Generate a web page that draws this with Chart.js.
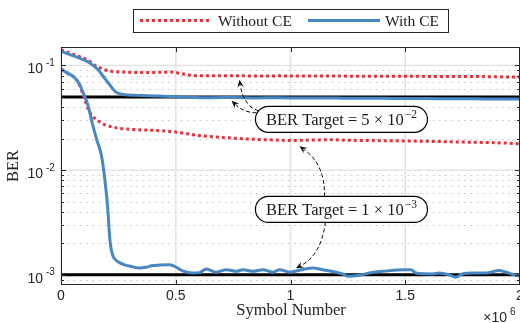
<!DOCTYPE html>
<html><head><meta charset="utf-8">
<script src="https://cdn.jsdelivr.net/npm/chart.js@4.4.1/dist/chart.umd.min.js"></script>
<style>html,body{margin:0;padding:0;background:#fff}canvas{display:block}</style>
</head><body>
<canvas id="c" width="520" height="323"></canvas>
<script>
// ---------- data (x in units of 10^6 symbols) ----------
const seriesLabels = ['Without CE', 'With CE'];

const redUpperX = [0, 0.03, 0.061, 0.09, 0.119, 0.148, 0.17, 0.191, 0.22, 0.264, 0.32, 0.378, 0.43, 0.481, 0.52, 0.55, 0.574, 0.65, 0.75, 0.85, 0.95, 1.05, 1.15, 1.25, 1.35, 1.45, 1.55, 1.65, 1.75, 1.85, 1.95, 2.0];
const redUpperY = [0.141, 0.133, 0.126, 0.119, 0.1116, 0.100, 0.095, 0.091, 0.088, 0.0865, 0.0858, 0.0857, 0.086, 0.0865, 0.084, 0.0815, 0.0802, 0.0795, 0.0798, 0.0793, 0.0795, 0.0792, 0.0794, 0.079, 0.0788, 0.079, 0.0787, 0.0785, 0.0786, 0.0782, 0.0776, 0.0774];

const redLowerX = [0, 0.03, 0.061, 0.08, 0.097, 0.119, 0.136, 0.155, 0.173, 0.191, 0.22, 0.249, 0.29, 0.336, 0.4, 0.481, 0.53, 0.574, 0.62, 0.678, 0.75, 0.822, 0.9, 0.996, 1.09, 1.183, 1.25, 1.33, 1.42, 1.5, 1.617, 1.72, 1.835, 1.92, 1.987, 2.0];
const redLowerY = [0.0924, 0.084, 0.0758, 0.066, 0.052, 0.038, 0.033, 0.0303, 0.0285, 0.0271, 0.026, 0.0252, 0.0247, 0.0243, 0.024, 0.0234, 0.0226, 0.0218, 0.0212, 0.0207, 0.0202, 0.0198, 0.0195, 0.0192, 0.0194, 0.0195, 0.0193, 0.0192, 0.0191, 0.019, 0.0188, 0.0186, 0.0184, 0.0182, 0.0179, 0.0178];

const blueUpperX = [0, 0.03, 0.061, 0.09, 0.119, 0.14, 0.162, 0.185, 0.206, 0.225, 0.242, 0.26, 0.278, 0.32, 0.378, 0.43, 0.481, 0.55, 0.65, 0.75, 0.85, 0.95, 1.05, 1.15, 1.25, 1.35, 1.45, 1.55, 1.65, 1.75, 1.85, 1.95, 2.0];
const blueUpperY = [0.137, 0.129, 0.122, 0.115, 0.108, 0.100, 0.091, 0.078, 0.068, 0.060, 0.0552, 0.0535, 0.0525, 0.0518, 0.0514, 0.051, 0.0506, 0.0498, 0.0492, 0.0494, 0.049, 0.0492, 0.0488, 0.049, 0.0486, 0.0487, 0.0484, 0.0483, 0.0482, 0.048, 0.0479, 0.0478, 0.0477];

const blueLowerX = [0, 0.03, 0.061, 0.08, 0.097, 0.119, 0.136, 0.155, 0.177, 0.191, 0.203, 0.213, 0.22, 0.227, 0.24, 0.257, 0.28, 0.307, 0.343, 0.37, 0.394, 0.43, 0.474, 0.503, 0.53, 0.574, 0.604, 0.633, 0.677, 0.72, 0.764, 0.793, 0.836, 0.88, 0.923, 0.952, 0.996, 1.025, 1.097, 1.14, 1.199, 1.227, 1.249, 1.3, 1.343, 1.401, 1.503, 1.525, 1.547, 1.619, 1.648, 1.691, 1.72, 1.749, 1.793, 1.851, 1.909, 1.952, 1.981, 2.0];
const blueLowerY = [0.0924, 0.084, 0.0758, 0.066, 0.0545, 0.0406, 0.0282, 0.0198, 0.0135, 0.0081, 0.0045, 0.00216, 0.0017, 0.0015, 0.00138, 0.0013, 0.00124, 0.0012, 0.00116, 0.00118, 0.00122, 0.00124, 0.00125, 0.00118, 0.00109, 0.00104, 0.00105, 0.00114, 0.00106, 0.00112, 0.00108, 0.00112, 0.00108, 0.00112, 0.00106, 0.00112, 0.00106, 0.00109, 0.00116, 0.00112, 0.00106, 0.00102, 0.00097, 0.00099, 0.00104, 0.00108, 0.00112, 0.00112, 0.00104, 0.00102, 0.00104, 0.001, 0.00095, 0.00102, 0.00104, 0.00104, 0.0011, 0.00104, 0.00099, 0.00097];

const targetBER = [0.05, 0.001];

const xTickValues = [0, 0.5, 1, 1.5, 2];
const xTickLabels = ['0', '0.5', '1', '1.5', '2'];
const yTickValues = [0.001, 0.01, 0.1];
const yTickExponents = ['-3', '-2', '-1'];

const annotationTexts = ['BER Target = 5 \u00d7 10', 'BER Target = 1 \u00d7 10'];
const annotationExps = ['\u22122', '\u22123'];
const annotationX = [1.222, 1.222];
const annotationY = [0.0306, 0.00422];
const arrowTipX = [[0.778, 0.743], [1.039, 1.024]];
const arrowTipY = [[0.0730, 0.046], [0.0169, 0.001156]];

// ---------- styles ----------
const RED = '#E8303A', BLUE = '#4787C3', AXIS = '#262626';
const SERIF = '"Liberation Serif", "Times New Roman", serif';
const SANS = '"Liberation Sans", Arial, sans-serif';
// arrow start / control offsets (pixels from box centre)
const arrowGeom = [
  [{s:[-83,-8.5], c:[-98,-13.5]}, {s:[-85,-6.5], c:[-97,-6.5]}],
  [{s:[-17,-12.5], c:[-16,-44.7]}, {s:[-16,12.5], c:[-20,45.3]}]
];

const pts = (xs, ys) => xs.map((x, i) => ({x, y: ys[i]}));

function line(ctx, x1, y1, x2, y2){ ctx.beginPath(); ctx.moveTo(x1,y1); ctx.lineTo(x2,y2); ctx.stroke(); }

function supText(ctx, base, exp, x, y, baseFont, expFont, align, dy){
  ctx.font = baseFont;
  const w1 = ctx.measureText(base).width;
  ctx.font = expFont;
  const w2 = ctx.measureText(exp).width;
  let left = align === 'center' ? x - (w1 + w2 + 1) / 2 : x;
  ctx.textAlign = 'left'; ctx.textBaseline = 'alphabetic';
  ctx.font = baseFont; ctx.fillText(base, left, y);
  ctx.font = expFont; ctx.fillText(exp, left + w1 + 1, y - dy);
}

const custom = {
  id: 'custom',
  beforeDatasetsDraw(chart){
    const {ctx, chartArea: a, scales: {x, y}} = chart;
    ctx.save();
    // minor dotted grid
    ctx.strokeStyle = '#c4c4c4'; ctx.lineWidth = 1; ctx.setLineDash([1.5, 4.8]);
    const minorVals = [];
    for (const d of [1e-4, 1e-3, 1e-2, 1e-1]) for (let m = 2; m <= 9; m++) {
      const v = m * d; if (v > y.min && v < y.max) minorVals.push(v);
    }
    for (const v of minorVals){ const py = Math.round(y.getPixelForValue(v)) + 0.5; line(ctx, a.left, py, a.right, py); }
    // major grid
    ctx.setLineDash([]); ctx.strokeStyle = '#e4e4e4'; ctx.lineWidth = 1.5;
    for (const v of yTickValues){ const py = y.getPixelForValue(v); line(ctx, a.left, py, a.right, py); }
    for (const v of xTickValues){ const px = x.getPixelForValue(v); line(ctx, px, a.top, px, a.bottom); }
    ctx.restore();
    chart.$minor = minorVals;
  },
  afterDatasetsDraw(chart){
    const {ctx, scales: {x, y}} = chart;
    ctx.save();
    const bw = 172, bh = 26, r = 13;
    for (let i = 0; i < annotationTexts.length; i++){
      const cx = x.getPixelForValue(annotationX[i]), cy = y.getPixelForValue(annotationY[i]);
      // arrows
      for (let j = 0; j < arrowTipX[i].length; j++){
        const g = arrowGeom[i][j];
        const tx = x.getPixelForValue(arrowTipX[i][j]), ty = y.getPixelForValue(arrowTipY[i][j]);
        const sx = cx + g.s[0], sy = cy + g.s[1], qx = cx + g.c[0], qy = cy + g.c[1];
        const ang = Math.atan2(ty - qy, tx - qx);
        const L = 7.5, W = 3.2;
        const ex = tx - Math.cos(ang) * (L - 2), ey = ty - Math.sin(ang) * (L - 2);
        ctx.strokeStyle = '#000'; ctx.lineWidth = 1; ctx.setLineDash([4, 2.5]);
        ctx.beginPath(); ctx.moveTo(sx, sy); ctx.quadraticCurveTo(qx, qy, ex, ey); ctx.stroke();
        ctx.setLineDash([]);
        ctx.fillStyle = '#000';
        const bx = tx - Math.cos(ang) * L, by = ty - Math.sin(ang) * L;
        const nx = -Math.sin(ang), ny = Math.cos(ang);
        ctx.beginPath();
        ctx.moveTo(tx, ty);
        ctx.lineTo(bx + nx * W, by + ny * W);
        ctx.lineTo(tx - Math.cos(ang) * (L * 0.65), ty - Math.sin(ang) * (L * 0.65));
        ctx.lineTo(bx - nx * W, by - ny * W);
        ctx.closePath(); ctx.fill();
      }
      // box
      const l = cx - bw / 2, t = cy - bh / 2;
      ctx.beginPath();
      ctx.moveTo(l + r, t); ctx.lineTo(l + bw - r, t);
      ctx.arc(l + bw - r, t + r, r, -Math.PI / 2, Math.PI / 2);
      ctx.lineTo(l + r, t + bh);
      ctx.arc(l + r, t + r, r, Math.PI / 2, Math.PI * 1.5);
      ctx.closePath();
      ctx.fillStyle = '#fff'; ctx.fill();
      ctx.strokeStyle = '#000'; ctx.lineWidth = 1.2; ctx.stroke();
      ctx.fillStyle = '#1a1a1a';
      supText(ctx, annotationTexts[i], annotationExps[i], cx, cy + 5.5, '16.5px ' + SERIF, '11.5px ' + SERIF, 'center', 7);
    }
    ctx.restore();
  },
  afterDraw(chart){
    const {ctx, chartArea: a, scales: {x, y}} = chart;
    ctx.save();
    // axes box
    ctx.strokeStyle = AXIS; ctx.lineWidth = 1;
    ctx.strokeRect(a.left + 0.5, a.top + 0.5, a.right - a.left - 1, a.bottom - a.top - 1);
    // ticks
    for (const v of xTickValues){
      const px = Math.round(x.getPixelForValue(v)) + 0.5;
      line(ctx, px, a.bottom, px, a.bottom - 5);
      line(ctx, px, a.top, px, a.top + 5);
    }
    for (const v of yTickValues){
      const py = Math.round(y.getPixelForValue(v)) + 0.5;
      line(ctx, a.left, py, a.left + 5, py);
      line(ctx, a.right, py, a.right - 5, py);
    }
    for (const v of (chart.$minor || [])){
      const py = Math.round(y.getPixelForValue(v)) + 0.5;
      line(ctx, a.left, py, a.left + 3, py);
      line(ctx, a.right, py, a.right - 3, py);
    }
    // tick labels
    ctx.fillStyle = '#262626';
    ctx.font = '14px ' + SANS; ctx.textAlign = 'center'; ctx.textBaseline = 'middle';
    xTickValues.forEach((v, i) => ctx.fillText(xTickLabels[i], x.getPixelForValue(v), 296.5));
    yTickValues.forEach((v, i) => {
      const py = y.getPixelForValue(v);
      ctx.font = '14px ' + SANS; ctx.textAlign = 'right'; ctx.textBaseline = 'alphabetic';
      ctx.fillText('10', 43, py + 8);
      ctx.font = '10px ' + SANS; ctx.textAlign = 'left';
      ctx.fillText(yTickExponents[i], 46, py + 0.5);
    });
    // multiplier
    ctx.font = '14px ' + SANS; ctx.textAlign = 'right'; ctx.textBaseline = 'alphabetic';
    ctx.fillText('\u00d710', 507, 322);
    ctx.font = '10px ' + SANS; ctx.textAlign = 'left';
    ctx.fillText('6', 510, 315);
    // axis titles
    ctx.fillStyle = '#262626';
    ctx.font = '16.5px ' + SERIF; ctx.textAlign = 'center'; ctx.textBaseline = 'middle';
    ctx.fillText('Symbol Number', (a.left + a.right) / 2 + 0.5, 311);
    ctx.save(); ctx.translate(13.5, 166); ctx.rotate(-Math.PI / 2); ctx.fillText('BER', 0, 0); ctx.restore();
    // legend
    ctx.fillStyle = '#fff'; ctx.fillRect(133, 9, 315, 24);
    ctx.strokeStyle = AXIS; ctx.lineWidth = 1; ctx.strokeRect(133.5, 9.5, 315, 23);
    ctx.lineWidth = 3;
    ctx.strokeStyle = RED; ctx.setLineDash([3, 3]); line(ctx, 140, 20.5, 211, 20.5);
    ctx.strokeStyle = BLUE; ctx.setLineDash([]); line(ctx, 308, 20.5, 380, 20.5);
    ctx.fillStyle = '#1a1a1a'; ctx.font = '15.5px ' + SERIF; ctx.textAlign = 'left'; ctx.textBaseline = 'alphabetic';
    ctx.fillText(seriesLabels[0], 218, 25.5);
    ctx.fillText(seriesLabels[1], 385, 25.5);
    ctx.restore();
  }
};

new Chart(document.getElementById('c').getContext('2d'), {
  type: 'line',
  data: { datasets: [
    {label: seriesLabels[1], data: pts(blueUpperX, blueUpperY), borderColor: BLUE, borderWidth: 3, order: 0},
    {label: seriesLabels[1], data: pts(blueLowerX, blueLowerY), borderColor: BLUE, borderWidth: 3, order: 0},
    {label: seriesLabels[0], data: pts(redUpperX, redUpperY), borderColor: RED, borderWidth: 3, borderDash: [3, 3], borderCapStyle: 'butt', order: 1},
    {label: seriesLabels[0], data: pts(redLowerX, redLowerY), borderColor: RED, borderWidth: 3, borderDash: [3, 3], borderCapStyle: 'butt', order: 1},
    {label: 'target', data: [{x: xTickValues[0], y: targetBER[0]}, {x: xTickValues[xTickValues.length - 1], y: targetBER[0]}], borderColor: '#000', borderWidth: 3, order: 2},
    {label: 'target', data: [{x: xTickValues[0], y: targetBER[1]}, {x: xTickValues[xTickValues.length - 1], y: targetBER[1]}], borderColor: '#000', borderWidth: 3, order: 2}
  ]},
  options: {
    responsive: false, animation: false,
    layout: { padding: { top: 47, right: 0, left: 0, bottom: 0 } },
    plugins: { legend: { display: false }, tooltip: { enabled: false } },
    elements: { point: { radius: 0 }, line: { cubicInterpolationMode: 'monotone', fill: false } },
    scales: {
      x: { type: 'linear', min: 0, max: 2, grid: { display: false }, border: { display: false }, ticks: { display: false },
           afterFit(s){ s.height = 38; } },
      y: { type: 'logarithmic', min: 0.0008, max: 0.15, grid: { display: false }, border: { display: false }, ticks: { display: false },
           afterFit(s){ s.width = 61; } }
    }
  },
  plugins: [custom]
});
</script>
</body></html>
